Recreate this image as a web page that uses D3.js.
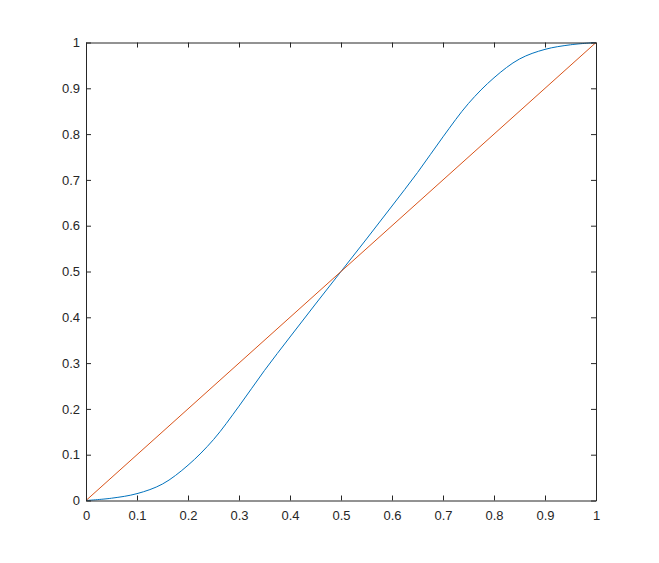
<!DOCTYPE html>
<html>
<head>
<meta charset="utf-8">
<script src="https://cdn.jsdelivr.net/npm/d3@7"></script>
<style>
  body { margin: 0; background: #fff; }
  svg { display: block; }
</style>
</head>
<body>
<div id="chart"></div>
<script>
// values
const curveX = [0, 0.05, 0.1, 0.15, 0.2, 0.25, 0.3, 0.35, 0.4, 0.45, 0.5,
                0.55, 0.6, 0.65, 0.7, 0.75, 0.8, 0.85, 0.9, 0.95, 1];
const curveY = [0, 0.005, 0.015, 0.036, 0.077, 0.133, 0.206, 0.284, 0.357, 0.429, 0.5,
                0.571, 0.643, 0.716, 0.794, 0.867, 0.923, 0.964, 0.985, 0.995, 1];
const lineX = [0, 1];
const lineY = [0, 1];
const tickValues = [0, 0.1, 0.2, 0.3, 0.4, 0.5, 0.6, 0.7, 0.8, 0.9, 1];
const tickLabels = ['0', '0.1', '0.2', '0.3', '0.4', '0.5', '0.6', '0.7', '0.8', '0.9', '1'];

const w = 659;
const h = 563;
const axisColor = '#262626';

const xScale = d3.scaleLinear()
  .domain([0, 1])
  .range([86, 596]);

const yScale = d3.scaleLinear()
  .domain([0, 1])
  .range([500.5, 42.5]);

const svg = d3.select('#chart')
  .append('svg')
  .attr('width', w)
  .attr('height', h);

const fmt = function(d) {
  return tickLabels[tickValues.indexOf(d)];
};

// series
const line = d3.line()
  .x(function(d) { return xScale(d[0]); })
  .y(function(d) { return yScale(d[1]); });

svg.append('path')
  .datum(curveX.map(function(x, i) { return [x, curveY[i]]; }))
  .attr('d', line.curve(d3.curveCatmullRom.alpha(0.5)))
  .attr('fill', 'none')
  .attr('stroke', '#0072BD')
  .attr('stroke-width', 1);

svg.append('path')
  .datum(lineX.map(function(x, i) { return [x, lineY[i]]; }))
  .attr('d', line.curve(d3.curveLinear))
  .attr('fill', 'none')
  .attr('stroke', '#D95319')
  .attr('stroke-width', 1);

// axes, ticks pointing inward on all four sides
function styleAxis(g) {
  g.selectAll('path, line').attr('stroke', axisColor).attr('stroke-width', 1);
  g.selectAll('text')
    .attr('fill', axisColor)
    .attr('font-family', '"Liberation Sans", Arial, Helvetica, sans-serif')
    .attr('font-size', '13px');
}

svg.append('g')
  .attr('transform', 'translate(0,' + yScale(0) + ')')
  .call(d3.axisBottom(xScale).tickValues(tickValues).tickFormat(fmt)
    .tickSizeInner(-5).tickSizeOuter(0).tickPadding(10))
  .call(styleAxis);

svg.append('g')
  .attr('transform', 'translate(' + xScale(0) + ',0)')
  .call(d3.axisLeft(yScale).tickValues(tickValues).tickFormat(fmt)
    .tickSizeInner(-5).tickSizeOuter(0).tickPadding(6))
  .call(styleAxis);

svg.append('g')
  .attr('transform', 'translate(0,' + yScale(1) + ')')
  .call(d3.axisTop(xScale).tickValues(tickValues).tickFormat('')
    .tickSizeInner(-5).tickSizeOuter(0))
  .call(styleAxis);

svg.append('g')
  .attr('transform', 'translate(' + xScale(1) + ',0)')
  .call(d3.axisRight(yScale).tickValues(tickValues).tickFormat('')
    .tickSizeInner(-5).tickSizeOuter(0))
  .call(styleAxis);
</script>
</body>
</html>
